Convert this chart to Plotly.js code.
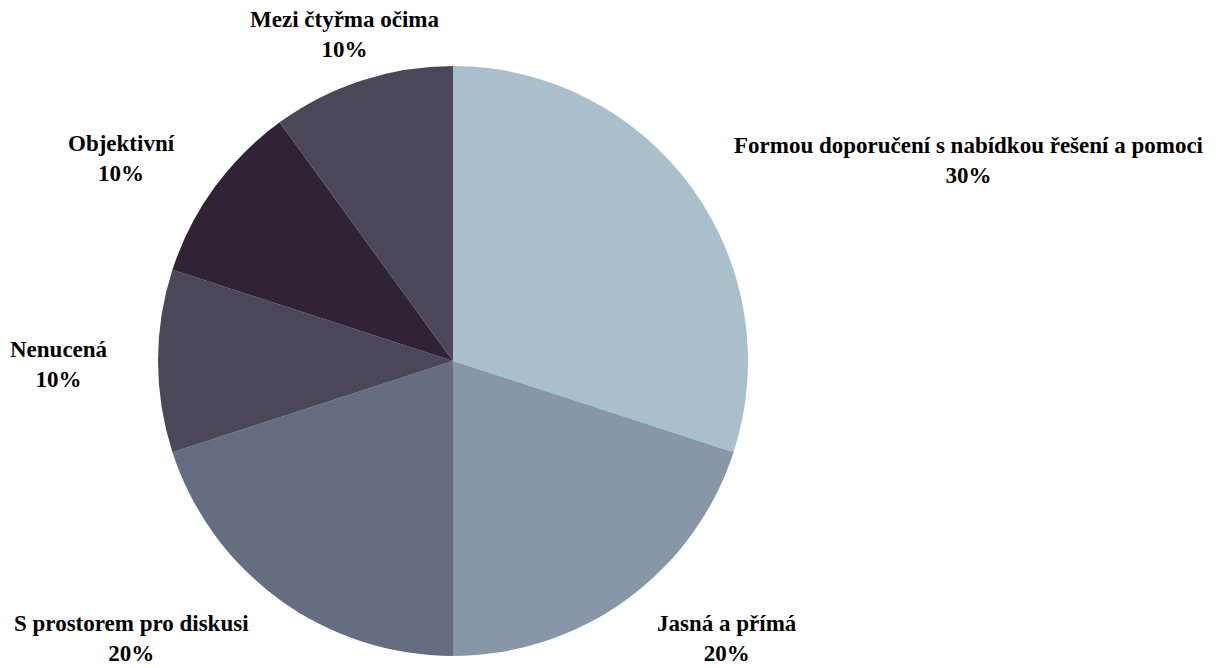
<!DOCTYPE html>
<html>
<head>
<meta charset="utf-8">
<script src="https://cdn.plot.ly/plotly-3.0.1.min.js"></script>
<style>html,body{margin:0;padding:0;background:#fff;}#chart{width:1223px;height:668px;}</style>
</head>
<body>
<div id="chart"></div>
<script>
const categories = ["Formou doporučení s nabídkou řešení a pomoci", "Jasná a přímá", "S prostorem pro diskusi", "Nenucená", "Objektivní", "Mezi čtyřma očima"];
const values = [30, 20, 20, 10, 10, 10];
const colors = ["#a9bfcc", "#8797a8", "#676d80", "#4b4658", "#302336", "#4b4658"];
// label anchor positions (pixels) for each category's outside label
const labelX = [969, 727, 131, 59, 121, 345];
const labelY = [160, 638, 638, 364, 158, 34];

const W = 1223, H = 668;
const total = values.reduce((a, b) => a + b, 0);
const annotations = categories.map((c, i) => ({
  x: labelX[i] / W, y: 1 - labelY[i] / H, xref: "paper", yref: "paper",
  xanchor: "center", yanchor: "middle", showarrow: false, align: "center",
  text: "<b>" + c + "</b><br><b>" + Math.round(values[i] / total * 100) + "%</b>",
  font: {family: "Liberation Serif, Times New Roman, serif", size: 23, color: "#000"}
}));

const cx = 453, cy = 361, r = 295;
Plotly.newPlot("chart", [{
  type: "pie",
  labels: categories,
  values: values,
  sort: false,
  direction: "clockwise",
  rotation: 0,
  textinfo: "none",
  hoverinfo: "label+percent",
  marker: {colors: colors, line: {width: 0}},
  domain: {x: [(cx - r) / W, (cx + r) / W], y: [(H - cy - r) / H, (H - cy + r) / H]},
  showlegend: false
}], {
  width: W, height: H,
  margin: {l: 0, r: 0, t: 0, b: 0},
  paper_bgcolor: "#fff",
  annotations: annotations
}, {displayModeBar: false, staticPlot: true});
</script>
</body>
</html>
